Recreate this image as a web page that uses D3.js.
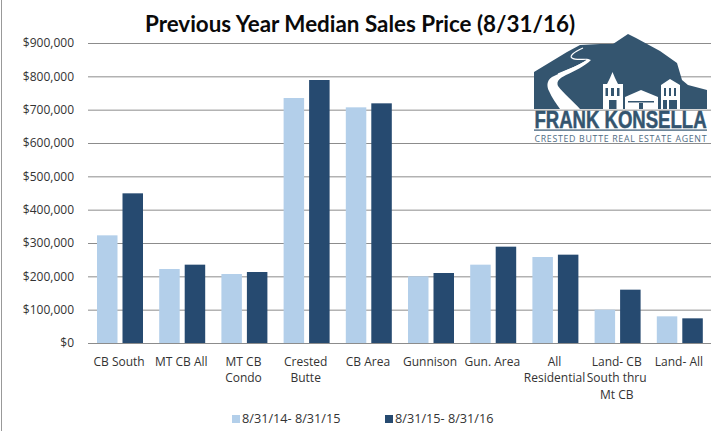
<!DOCTYPE html>
<html>
<head>
<meta charset="utf-8">
<script src="https://cdn.jsdelivr.net/npm/d3@7"></script>
<style>
  html, body { margin: 0; padding: 0; background: #fff; }
  svg { display: block; }
  text { fill: #333; font-family: "Open Sans", sans-serif; font-size: 12px; }
</style>
</head>
<body>
<svg id="chart" width="714" height="431"></svg>
<script>
const categories = ['CB South', 'MT CB All', 'MT CB Condo', 'Crested Butte', 'CB Area', 'Gunnison', 'Gun. Area', 'All Residential', 'Land- CB South thru Mt CB', 'Land- All'];
const catLines = [['CB South'], ['MT CB All'], ['MT CB', 'Condo'], ['Crested', 'Butte'], ['CB Area'], ['Gunnison'], ['Gun. Area'], ['All', 'Residential'], ['Land- CB', 'South thru', 'Mt CB'], ['Land- All']];
const prevYear = [323000, 222000, 207000, 735000, 707000, 200000, 235000, 258000, 100000, 80000];
const currYear = [449000, 235000, 213000, 789000, 719000, 210000, 289000, 265000, 160000, 74000];
const seriesNames = ['8/31/14- 8/31/15', '8/31/15- 8/31/16'];
const seriesColors = ['#b3cfea', '#264a70'];
const tickValues = [0, 100000, 200000, 300000, 400000, 500000, 600000, 700000, 800000, 900000];

const svg = d3.select('#chart');

// thin frame on the left, like the screenshot
svg.append('line').attr('x1', 1.5).attr('x2', 1.5).attr('y1', 0).attr('y2', 431)
    .attr('stroke', '#999').attr('stroke-width', 1);

const x = d3.scaleBand().domain(categories).range([88, 710]);
const y = d3.scaleLinear().domain([0, 900000]).range([343, 43]);

svg.append('text')
    .attr('x', 360).attr('y', 32)
    .attr('text-anchor', 'middle')
    .style('font-family', 'Lato, sans-serif')
    .style('font-size', '22.4px').style('font-weight', 700).style('fill', '#0a0a0a')
    .text('Previous Year Median Sales Price (8/31/16)');

// gridlines + y labels
const yAxis = svg.append('g')
    .attr('transform', 'translate(88,0)')
    .call(d3.axisLeft(y).tickValues(tickValues).tickSize(0).tickPadding(14).tickFormat(d3.format('$,')));
yAxis.select('.domain').remove();
yAxis.selectAll('text').style('font-size', '12px');
yAxis.selectAll('line')
    .attr('x1', 0).attr('x2', 623)
    .attr('stroke', '#8c8c8c').attr('stroke-width', 1);

// bars
const barW = 20.5;
[prevYear, currYear].forEach((vals, s) => {
    svg.append('g').selectAll('rect')
        .data(vals)
        .join('rect')
        .attr('x', (d, i) => x(categories[i]) + 9 + s * 25.5)
        .attr('y', d => y(d))
        .attr('width', barW)
        .attr('height', d => y(0) - y(d))
        .attr('fill', seriesColors[s]);
});

// category labels
const catG = svg.append('g').selectAll('text')
    .data(categories)
    .join('text')
    .attr('text-anchor', 'middle')
    .attr('x', d => x(d) + x.bandwidth() / 2)
    .attr('y', 366);
catG.selectAll('tspan')
    .data((d, i) => catLines[i])
    .join('tspan')
    .attr('x', function() { return d3.select(this.parentNode).attr('x'); })
    .attr('dy', (d, i) => i ? 16.3 : 0)
    .text(d => d);

// legend
const legendX = [232, 385];
seriesNames.forEach((name, i) => {
    svg.append('rect').attr('x', legendX[i]).attr('y', 415).attr('width', 8).attr('height', 8).attr('fill', seriesColors[i]);
    svg.append('text').attr('x', legendX[i] + 10).attr('y', 423).style('font-size', '12.7px').text(name);
});

// logo
const logo = svg.append('g');
const blue = '#34556f';
logo.append('path').attr('fill', blue)
    .attr('d', 'M534,72 L567,52 L580,45 L600,44 L613,44 L628,34 L636,38 L660,51 L677,63 L682,80 L688,85 L707,90 L707,109 L534,109 Z');
// road
logo.append('path').attr('fill', 'none').attr('stroke', '#fff').attr('stroke-width', 1.2)
    .attr('d', 'M583,48 C574,52 569,56 572,58 C576,61 589,58 588,60 C580,66 570,69 558,74');
logo.append('path').attr('fill', '#fff')
    .attr('d', 'M588,59 C578,66 566,70 552,77 C546,81 547,87 549,91 C552,98 556,103 560,109 L580,109 C574,102 563,93 558,86 C556,81 560,78 566,75 C575,71 585,66 591,60 Z');
// buildings
logo.append('path').attr('fill', '#fff')
    .attr('d', 'M603,109 V84 H607 L610,78 L612.5,72 L615,78 L618,84 H623 V109 Z M625,109 V97 L641,90 L658,97 V109 Z M661,109 V85 L670,79 L680,85 V109 Z');
logo.append('path').attr('fill', blue)
    .attr('d', 'M605.5,88 h2.5 v8 h-2.5z M611,88 h3 v8 h-3z M617,88 h2.5 v8 h-2.5z M609,100 h7.5 v9 h-7.5z M628,101 h26 v1.5 h-26z M639,103 h4 v6 h-4z M664,88 h2 v8 h-2z M669,88 h2 v8 h-2z M674,88 h2 v8 h-2z M663,100 h4 v9 h-4z M669,100 h8 v9 h-8z');
// wide bold face squeezed to the logo's condensed lettering
logo.append('text')
    .attr('transform', 'translate(620.5,127.5) scale(0.79,1)')
    .attr('text-anchor', 'middle')
    .style('font-family', '"Liberation Sans", sans-serif')
    .style('font-size', '23.5px').style('font-weight', 700).style('fill', blue)
    .style('stroke', blue).style('stroke-width', 0.5)
    .text('FRANK KONSELLA');
logo.append('rect').attr('x', 534).attr('y', 129.5).attr('width', 173).attr('height', 1.2).attr('fill', blue);
logo.append('text')
    .attr('x', 620.5).attr('y', 141.5)
    .attr('text-anchor', 'middle')
    .attr('textLength', 172).attr('lengthAdjust', 'spacing')
    .style('font-size', '8.8px').style('fill', '#4f6c84')
    .text('CRESTED BUTTE REAL ESTATE AGENT');
</script>
</body>
</html>
